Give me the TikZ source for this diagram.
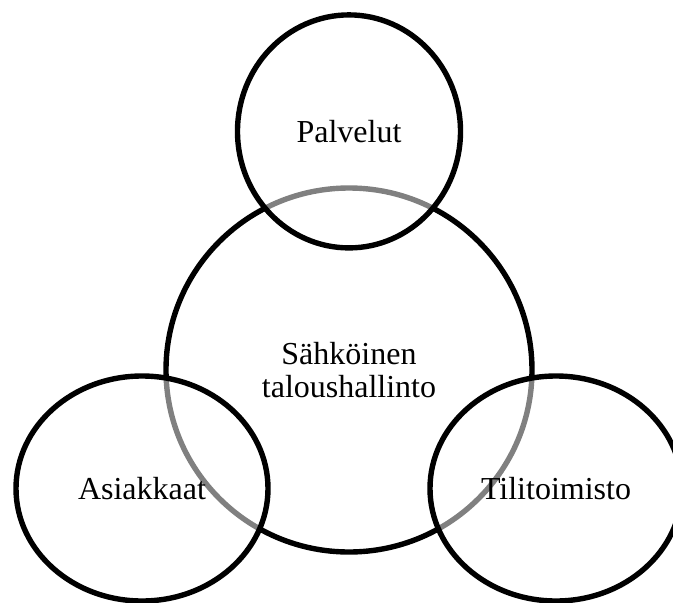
\documentclass[tikz,border=0pt]{standalone}
\usepackage{fontspec}
\setmainfont{Liberation Serif}
\usetikzlibrary{shapes.geometric}
\begin{document}
\begin{tikzpicture}[x=1pt,y=-1pt,
  ring/.style={ellipse, draw=black, line width=5.4pt, inner sep=0pt,
    font=\fontsize{32}{33.3}\selectfont, align=center},
  side/.style={ring, fill=white, fill opacity=0.5, text opacity=1}]
\useasboundingbox (0,0) rectangle (673,603);
% central circle, drawn first so the outer circles veil its rim
\node[ring, minimum width=366pt, minimum height=364pt] (core) at (349,370)
  {Sähköinen\\taloushallinto};
% the three surrounding circles with a half-transparent white fill
\node[side, minimum width=223pt, minimum height=233pt] (palv) at (349,131.4) {Palvelut};
\node[side, minimum width=252pt, minimum height=225pt] (asia) at (142,488.5) {Asiakkaat};
\node[side, minimum width=252pt, minimum height=225pt] (tili) at (556,488.5) {Tilitoimisto};
\end{tikzpicture}
\end{document}
